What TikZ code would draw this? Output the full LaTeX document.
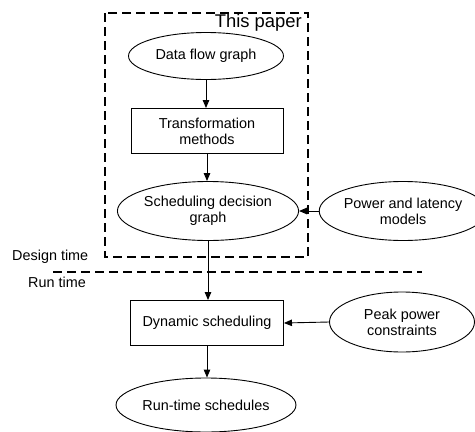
\documentclass[tikz,border=0pt]{standalone}
\usepackage{fontspec}
\setmainfont{Liberation Sans}
\usetikzlibrary{shapes.geometric,arrows.meta}
\begin{document}
\begin{tikzpicture}[x=1pt,y=-1pt,
  every node/.style={font=\fontsize{14.4}{16}\selectfont, align=center, inner sep=0pt},
  ell/.style={draw, ellipse, line width=0.9pt},
  boxnode/.style={draw, rectangle, line width=0.9pt},
  arr/.style={-{Triangle[length=8pt,width=6.5pt]}, line width=0.9pt},
  dsh/.style={line width=2.4pt, dash pattern=on 9pt off 5pt}]
\useasboundingbox (0,0) rectangle (475,432);
\draw[dsh] (105,13) rectangle (308,257);
\node[anchor=east, font=\fontsize{18.4}{20}\selectfont] (tp) at (302,23) {This paper};
\node[ell, minimum width=155, minimum height=47] (dfg) at (206,56) {Data flow graph};
\node[boxnode, minimum width=152, minimum height=45] (tm) at (207,131) {Transformation\\methods};
\node[ell, minimum width=150, minimum height=59] (sdg) at (208,211) {Scheduling decision\\graph};
\node[ell, minimum width=146, minimum height=59] (plm) at (403,211) {Power and latency\\models};
\node[anchor=west] (dt) at (12,257) {Design time};
\node[anchor=west] (rt) at (28,282) {Run time};
\coordinate (l1) at (53,272);
\coordinate (l2) at (422,272);
\draw[dsh] (l1) -- (l2);
\node[boxnode, minimum width=153, minimum height=45] (ds) at (207,323) {Dynamic scheduling};
\node[ell, minimum width=145, minimum height=60] (ppc) at (402,322) {Peak power\\constraints};
\node[ell, minimum width=151, minimum height=54] (rts) at (206,405) {Run-time schedules};
\draw[arr] (dfg.south) -- (dfg.south |- tm.north);
\draw[arr] (tm.south) -- (tm.south |- sdg.north);
\draw[arr] (plm.west) -- (sdg.east);
\draw[arr] (sdg.south) -- (sdg.south |- ds.north);
\draw[arr] (ppc.west) -- (ds.east);
\draw[arr] (ds.south) -- (ds.south |- rts.north);
\end{tikzpicture}
\end{document}
